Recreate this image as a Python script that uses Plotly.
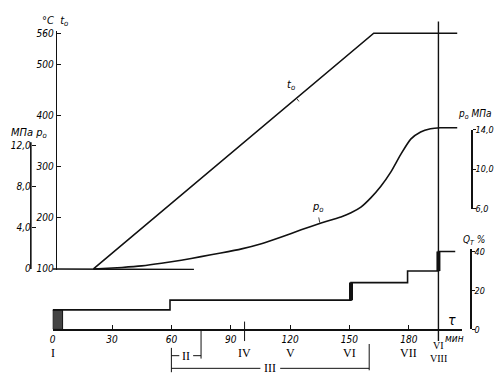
import plotly.graph_objects as go

W, H = 501, 386

# ---- data (tau in minutes) ----
t0_tau = [20.6, 162.3, 204.5]
t0_val = [100, 560, 560]          # deg C

base_tau = [0, 71.4]
base_val = [100, 99]              # deg C

p0_tau = [20.6, 35, 45, 55, 65, 75, 85, 95.5, 105.5, 115.6, 125.6, 135.7, 140.7,
          145.7, 150.8, 155.8, 160.8, 165.8, 170.9, 175.9, 181, 186, 191, 196, 204.5]
p0_val = [0, 0.15, 0.3, 0.55, 0.85, 1.2, 1.55, 1.95, 2.45, 3.1, 3.8, 4.45, 4.75,
          5.05, 5.45, 6.0, 6.9, 8.0, 9.4, 11.1, 12.6, 13.3, 13.6, 13.7, 13.7]  # MPa

q_tau = [5, 59.3, 150.8, 179.4, 195, 203.5]
q_val = [10, 15, 24, 30, 40, 40]  # %

box_tau = [0, 5]
box_q = 10

thick_tau = [150.8, 195]
thick_lo = [15, 30]
thick_hi = [24, 40]

x_ticks = [0, 30, 60, 90, 120, 150, 180]
t_ticks = [100, 200, 300, 400, 500, 560]
p_ticks = [0, 4, 8, 12]
p_ticklabels = ["0", "4,0", "8,0", "12,0"]
pr_ticks = [6, 10, 14]
pr_ticklabels = ["6,0", "10,0", "14,0"]
q_ticks = [0, 20, 40]

phase_names = ["I", "IV", "V", "VI", "VII"]
phase_tau = [0, 97, 120, 150, 180]
phase_last_tau = 195
bracket_II = [60, 75]
bracket_III = [60, 160]


def py(p):
    return 1 - p / H


def px(p):
    return p / W


FONT = "DejaVu Sans Condensed, Liberation Sans Narrow, sans-serif"
tickfont = dict(family=FONT, size=10, color="black", style="italic")
BLACK = "#111"

fig = go.Figure()

fig.add_trace(go.Scatter(x=t0_tau, y=t0_val, mode="lines", yaxis="y",
                         line=dict(color=BLACK, width=1.6), hoverinfo="skip"))
fig.add_trace(go.Scatter(x=base_tau, y=base_val, mode="lines", yaxis="y",
                         line=dict(color=BLACK, width=1.6), hoverinfo="skip"))
fig.add_trace(go.Scatter(x=p0_tau, y=p0_val, mode="lines", yaxis="y2",
                         line=dict(color=BLACK, width=1.6, shape="spline", smoothing=0.6),
                         hoverinfo="skip"))
fig.add_trace(go.Scatter(x=[box_tau[0], box_tau[0], box_tau[1], box_tau[1], box_tau[0]],
                         y=[0, box_q, box_q, 0, 0], mode="lines", fill="toself",
                         fillcolor="#444", line=dict(color=BLACK, width=1), yaxis="y4",
                         hoverinfo="skip"))
fig.add_trace(go.Scatter(x=[box_tau[0]] + q_tau, y=[box_q] + q_val, mode="lines", yaxis="y4",
                         line=dict(color=BLACK, width=1.6, shape="hv"), hoverinfo="skip"))
for tt, lo, hi in zip(thick_tau, thick_lo, thick_hi):
    fig.add_trace(go.Scatter(x=[tt, tt], y=[lo, hi], mode="lines", yaxis="y4",
                             line=dict(color=BLACK, width=4), hoverinfo="skip"))
# invisible trace so the right pressure axis is drawn
fig.add_trace(go.Scatter(x=[0, 0], y=[6, 14], mode="lines", yaxis="y3",
                         line=dict(color="rgba(0,0,0,0)", width=0), hoverinfo="skip"))

x0px, x1px = 50, 462
xscale = 1.99
ax_common = dict(showgrid=False, zeroline=False, tickfont=tickfont, linecolor=BLACK,
                 tickcolor=BLACK, linewidth=1.6, fixedrange=True)
rfont = dict(tickfont, size=9)

t_bot, t_top = 272, 27
t_per = (271 - 29) / 460.0
fig.update_layout(
    width=W, height=H, margin=dict(l=0, r=0, t=0, b=0),
    paper_bgcolor="white", plot_bgcolor="rgba(0,0,0,0)", showlegend=False,
    xaxis=dict(domain=[px(x0px), px(x1px)], range=[0, (x1px - x0px) / xscale],
               anchor="y4", tickvals=x_ticks, ticks="inside", ticklen=4,
               showline=True, **ax_common),
    yaxis=dict(domain=[py(t_bot), py(t_top)],
               range=[100 - (t_bot - 271) / t_per, 100 + (271 - t_top) / t_per],
               anchor="free", position=px(53), side="left", tickvals=t_ticks,
               ticks="inside", ticklen=4, showline=True, **ax_common),
    yaxis2=dict(domain=[py(272), py(118)], range=[-1 / 10.58, (271 - 118) / 10.58],
                anchor="free", position=px(28), side="left",
                tickvals=p_ticks, ticktext=p_ticklabels, ticks="inside", ticklen=4,
                showline=False, **ax_common),
    yaxis3=dict(domain=[py(209), py(128)], range=[6, 14], anchor="free",
                position=px(471), side="right", tickvals=pr_ticks,
                ticktext=pr_ticklabels, ticks="outside", ticklen=3, showline=True,
                ticklabelstandoff=-2, **dict(ax_common, tickfont=rfont)),
    yaxis4=dict(domain=[py(333), py(251)], range=[0, 41], anchor="free",
                position=px(470), side="right", tickvals=q_ticks, ticks="outside",
                ticklen=3, showline=True, ticklabelstandoff=-2,
                **dict(ax_common, tickfont=rfont)),
)

shapes = []
shapes.append(dict(type="line", xref="paper", yref="y2", x0=px(28), x1=px(28),
                   y0=0, y1=12.3, line=dict(color=BLACK, width=1.6)))
shapes.append(dict(type="line", xref="x", yref="paper", x0=phase_last_tau, x1=phase_last_tau,
                   y0=py(345), y1=py(17), line=dict(color=BLACK, width=1.4)))
shapes.append(dict(type="line", xref="x", yref="paper", x0=phase_tau[1], x1=phase_tau[1],
                   y0=py(345), y1=py(325), line=dict(color=BLACK, width=1)))
shapes.append(dict(type="line", xref="x", yref="paper", x0=bracket_II[0], x1=bracket_II[0] + 4,
                   y0=py(360), y1=py(360), line=dict(color=BLACK, width=1)))
shapes.append(dict(type="line", xref="x", yref="paper", x0=bracket_II[1] - 4, x1=bracket_II[1],
                   y0=py(360), y1=py(360), line=dict(color=BLACK, width=1)))
shapes.append(dict(type="line", xref="x", yref="paper", x0=bracket_II[1], x1=bracket_II[1],
                   y0=py(363), y1=py(334), line=dict(color=BLACK, width=1)))
shapes.append(dict(type="line", xref="x", yref="paper", x0=bracket_II[0], x1=bracket_II[0],
                   y0=py(377), y1=py(352), line=dict(color=BLACK, width=1)))
shapes.append(dict(type="line", xref="x", yref="paper", x0=bracket_III[0], x1=(bracket_III[0] + bracket_III[1]) / 2 - 5,
                   y0=py(373), y1=py(373), line=dict(color=BLACK, width=1)))
shapes.append(dict(type="line", xref="x", yref="paper", x0=(bracket_III[0] + bracket_III[1]) / 2 + 5, x1=bracket_III[1],
                   y0=py(373), y1=py(373), line=dict(color=BLACK, width=1)))
shapes.append(dict(type="line", xref="x", yref="paper", x0=bracket_III[1], x1=bracket_III[1],
                   y0=py(375), y1=py(348), line=dict(color=BLACK, width=1)))
shapes.append(dict(type="line", xref="x", yref="y", x0=123.5, x1=124.5, y0=432, y1=427,
                   line=dict(color=BLACK, width=0.8)))
shapes.append(dict(type="line", xref="x", yref="y2", x0=134.5, x1=135, y0=5.0, y1=4.5,
                   line=dict(color=BLACK, width=0.8)))
fig.update_layout(shapes=shapes)

ann = []
lab = dict(family=FONT, size=11, color="black", style="italic")
rom = dict(family="Liberation Serif, DejaVu Serif, serif", size=12, color="black")


def A(text, x, y, xref="paper", font=lab, **kw):
    ann.append(dict(text=text, x=x, y=y, xref=xref, yref="paper", showarrow=False,
                    font=font, xanchor="center", yanchor="middle", **kw))


A("°C  <i>t</i><sub>o</sub>", px(52), py(16))
A("МПа <i>p</i><sub>o</sub>", px(26), py(131))
A("<i>p</i><sub>o</sub> МПа", px(474), py(112), font=dict(lab, size=10))
A("<i>Q</i><sub>T</sub> %", px(474), py(242), font=dict(lab, size=10))
A("τ", px(452), py(323), font=dict(family=FONT, size=14, color="black", style="italic"))
A("мин", px(454), py(342), font=dict(family=FONT, size=10, color="black", style="italic"))
A("<i>t</i><sub>o</sub>", px(290), py(82))
A("<i>p</i><sub>o</sub>", px(317), py(207))
for name, tt in zip(phase_names, phase_tau):
    A(name, tt, py(357), xref="x", font=rom)
A("VI", phase_last_tau, py(350), xref="x", font=dict(rom, size=10))
A("VIII", phase_last_tau, py(363), xref="x", font=dict(rom, size=10))
A("II", sum(bracket_II) / 2, py(360), xref="x", font=rom)
A("III", sum(bracket_III) / 2, py(373), xref="x", font=rom)
fig.update_layout(annotations=ann)

fig.write_html("out.html", config={"displayModeBar": False, "staticPlot": True},
               post_script="document.body.style.margin='0';document.body.style.overflow='hidden';")
